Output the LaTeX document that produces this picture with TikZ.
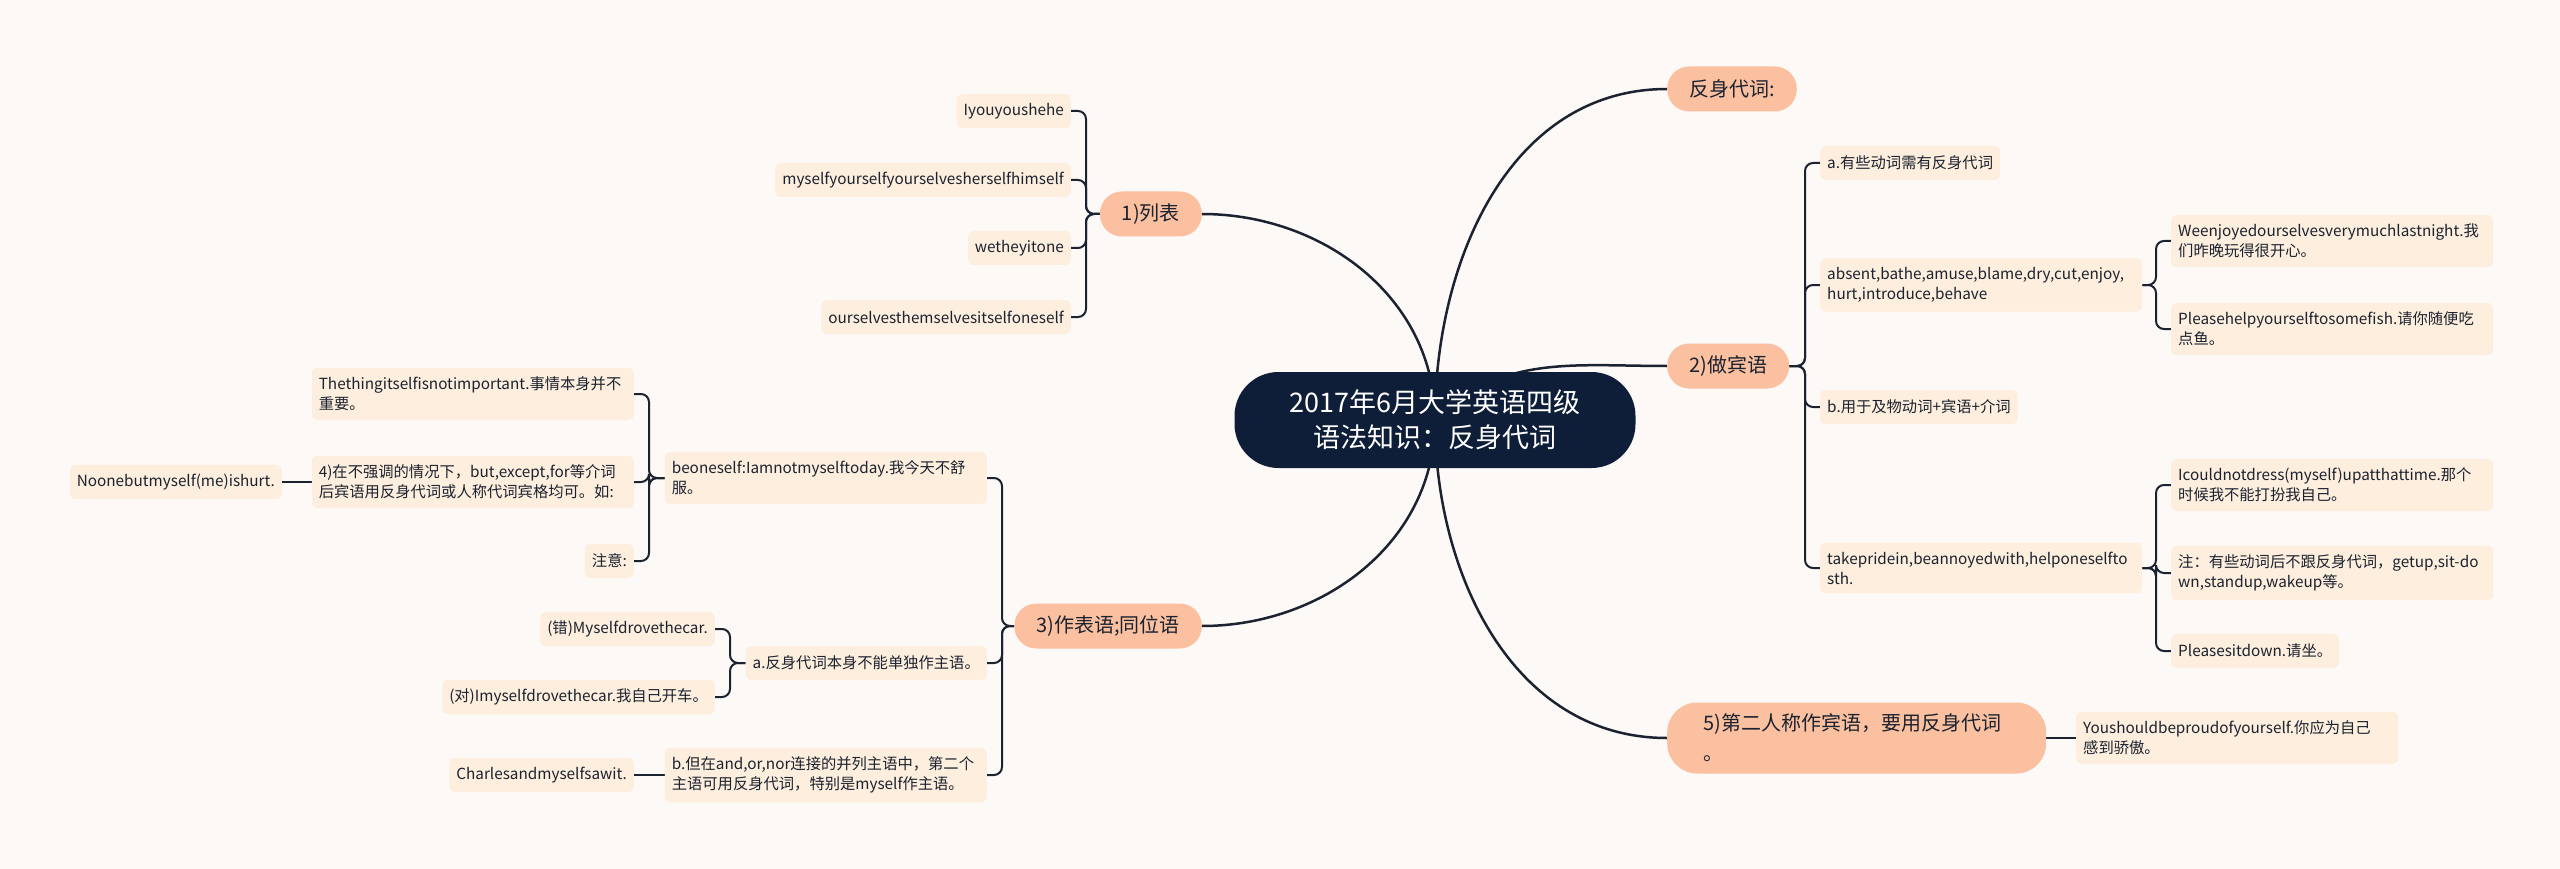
\documentclass[tikz,border=0pt]{standalone}
\usepackage{fontspec}
\setmainfont{Noto Sans CJK SC}
\usepackage{xcolor}
\usepackage{tikz}
\usetikzlibrary{positioning}

\definecolor{paper}{HTML}{FDF9F7}
\definecolor{navy}{HTML}{0E1E38}
\definecolor{peach}{HTML}{FAC09F}
\definecolor{cream}{HTML}{FDEEDD}
\definecolor{ink}{HTML}{1B2230}

\pgfdeclarelayer{paperlayer}
\pgfdeclarelayer{linelayer}
\pgfsetlayers{paperlayer,linelayer,main}

\begin{document}
\begin{tikzpicture}[x=1pt, y=-1pt,
    root/.style={rectangle, rounded corners=44pt, fill=navy, text=white, minimum width=401pt, minimum height=96pt, align=center, font=\fontsize{27pt}{35pt}\selectfont},
    branch/.style={rectangle, rounded corners=22pt, fill=peach, text=ink, minimum height=45pt, inner xsep=22pt, font=\fontsize{20pt}{26pt}\selectfont},
    leaf/.style={rectangle, rounded corners=6pt, fill=cream, text=ink, minimum height=34pt, inner xsep=7pt, inner ysep=9pt, align=left, font=\fontsize{15.3pt}{20pt}\selectfont},
    wide/.style={leaf, text width=308pt},
    trunk/.style={draw=ink, line width=2.5pt},
    twig/.style={draw=ink, line width=2pt, rounded corners=8pt},
]
    \useasboundingbox (0,0) rectangle (2560,869);
    \begin{pgfonlayer}{paperlayer}
        \fill[paper] (0,0) rectangle (2560,869);
    \end{pgfonlayer}

    \node[root] (root) at (1435,420) {2017年6月大学英语四级\\语法知识：反身代词};

    % main branches
    \node[branch, anchor=west] (refl) at (1667,89) {反身代词:};
    \node[branch, anchor=west] (obj) at (1667,366) {2)做宾语};
    \node[branch, anchor=west, minimum height=71pt, rounded corners=30pt, inner xsep=36pt, text width=307pt, align=left, font=\fontsize{20pt}{30pt}\selectfont] (second) at (1667,738) {5)第二人称作宾语，要用反身代词\\。};
    \node[branch, anchor=east] (list) at (1202,214) {1)列表};
    \node[branch, anchor=east] (pred) at (1202,626) {3)作表语;同位语};

    % 1)列表
    \node[leaf, anchor=east] (l1) at (1071,111) {Iyouyoushehe};
    \node[leaf, anchor=east] (l2) at (1071,180) {myselfyourselfyourselvesherselfhimself};
    \node[leaf, anchor=east] (l3) at (1071,248) {wetheyitone};
    \node[leaf, anchor=east] (l4) at (1071,317) {ourselvesthemselvesitselfoneself};

    % 3)作表语;同位语
    \node[wide, anchor=east] (p1) at (987,478) {beoneself:Iamnotmyselftoday.我今天不舒\\服。};
    \node[leaf, anchor=east] (p2) at (987,663) {a.反身代词本身不能单独作主语。};
    \node[wide, anchor=east] (p3) at (987,775) {b.但在and,or,nor连接的并列主语中，第二个\\主语可用反身代词，特别是myself作主语。};
    \node[wide, anchor=east] (q1) at (634,394) {Thethingitselfisnotimportant.事情本身并不\\重要。};
    \node[wide, anchor=east] (q2) at (634,482) {4)在不强调的情况下，but,except,for等介词\\后宾语用反身代词或人称代词宾格均可。如:};
    \node[leaf, anchor=east] (q3) at (634,561) {注意:};
    \node[leaf, anchor=east] (r1) at (282,482) {Noonebutmyself(me)ishurt.};
    \node[leaf, anchor=east] (s1) at (715,629) {(错)Myselfdrovethecar.};
    \node[leaf, anchor=east] (s2) at (715,697) {(对)Imyselfdrovethecar.我自己开车。};
    \node[leaf, anchor=east] (t1) at (634,775) {Charlesandmyselfsawit.};

    % 2)做宾语
    \node[leaf, anchor=west] (o1) at (1820,163) {a.有些动词需有反身代词};
    \node[wide, anchor=west] (o2) at (1820,285) {absent,bathe,amuse,blame,dry,cut,enjoy,\\hurt,introduce,behave};
    \node[leaf, anchor=west] (o3) at (1820,407) {b.用于及物动词+宾语+介词};
    \node[wide, anchor=west] (o4) at (1820,568) {takepridein,beannoyedwith,helponeselfto\\sth.};
    \node[wide, anchor=west] (u1) at (2171,241) {Weenjoyedourselvesverymuchlastnight.我\\们昨晚玩得很开心。};
    \node[wide, anchor=west] (u2) at (2171,329) {Pleasehelpyourselftosomefish.请你随便吃\\点鱼。};
    \node[wide, anchor=west] (v1) at (2171,485) {Icouldnotdress(myself)upatthattime.那个\\时候我不能打扮我自己。};
    \node[wide, anchor=west] (v2) at (2171,573) {注：有些动词后不跟反身代词，getup,sit-do\\wn,standup,wakeup等。};
    \node[leaf, anchor=west] (v3) at (2171,651) {Pleasesitdown.请坐。};

    % 5)
    \node[wide, anchor=west] (w1) at (2076,738) {Youshouldbeproudofyourself.你应为自己\\感到骄傲。};

    \begin{pgfonlayer}{linelayer}
        \draw[trunk] (root.center) to[out=90, in=0] (list.east);
        \draw[trunk] (root.center) to[out=-90, in=0] (pred.east);
        \draw[trunk] (root.center) to[out=90, in=180] (refl.west);
        \draw[trunk] (root.center) to[out=45, in=180] (obj.west);
        \draw[trunk] (root.center) to[out=-90, in=180] (second.west);

        \foreach \n in {l1,l2,l3,l4}
            \draw[twig] (\n.east) -- ++(15,0) |- (list.west);
        \foreach \n in {p1,p2,p3}
            \draw[twig] (\n.east) -- ++(15,0) |- (pred.west);
        \foreach \n in {q1,q2,q3}
            \draw[twig] (\n.east) -- ++(15,0) |- (p1.west);
        \foreach \n in {s1,s2}
            \draw[twig] (\n.east) -- ++(15,0) |- (p2.west);
        \draw[twig] (r1.east) -- (q2.west);
        \draw[twig] (t1.east) -- (p3.west);

        \foreach \n in {o1,o2,o3,o4}
            \draw[twig] (\n.west) -- ++(-15,0) |- (obj.east);
        \foreach \n in {u1,u2}
            \draw[twig] (\n.west) -- ++(-15,0) |- (o2.east);
        \foreach \n in {v1,v2,v3}
            \draw[twig] (\n.west) -- ++(-15,0) |- (o4.east);
        \draw[twig] (w1.west) -- (second.east);
    \end{pgfonlayer}
\end{tikzpicture}
\end{document}
